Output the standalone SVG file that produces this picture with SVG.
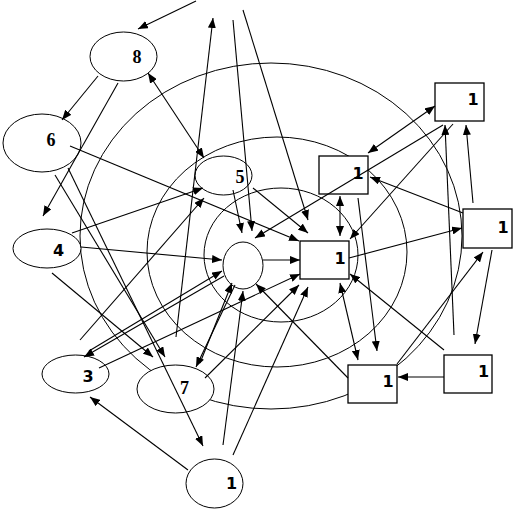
<svg xmlns="http://www.w3.org/2000/svg" width="515" height="511" viewBox="0 0 515 511">
<style>
.ring{fill:none;stroke:#000;stroke-width:1}
.n{fill:#fff;stroke:#000;stroke-width:1}
.b{fill:#fff;stroke:#000;stroke-width:1.3}
.c line{stroke:#000;stroke-width:1.1;marker-end:url(#a)}
.c line.d{marker-start:url(#a)}
.ts{font-family:"Liberation Serif","Times New Roman",serif;font-weight:bold;font-size:18px;text-anchor:middle}
.tn{font-family:"DejaVu Sans","Verdana",sans-serif;font-weight:bold;font-size:16px;text-anchor:middle}
</style>
<defs>
<marker id="a" viewBox="0 0 10 8" refX="10" refY="4" markerWidth="10" markerHeight="8" markerUnits="userSpaceOnUse" orient="auto-start-reverse"><path d="M0,0L10,4L0,8z" fill="#000"/></marker>
</defs>
<rect width="515" height="511" fill="#fff"/>
<g id="rings">
<ellipse class="ring" cx="271" cy="236" rx="191" ry="173"/>
<ellipse class="ring" cx="277" cy="252" rx="130" ry="115"/>
<ellipse class="ring" cx="281" cy="255" rx="77" ry="67"/>
</g>
<g id="n8"><ellipse class="n" cx="123.5" cy="56.5" rx="33.5" ry="24.5"/><text class="ts" x="137" y="63">8</text></g>
<g id="n6"><ellipse class="n" cx="42" cy="143" rx="39" ry="29"/><text class="ts" x="51" y="146">6</text></g>
<g id="n4"><ellipse class="n" cx="47" cy="248.5" rx="34" ry="19.5"/><text class="tn" x="58.5" y="256">4</text></g>
<g id="n3"><ellipse class="n" cx="75.5" cy="374" rx="33.5" ry="19"/><text class="tn" x="88" y="382">3</text></g>
<g id="n7"><ellipse class="n" cx="175.5" cy="389" rx="38.5" ry="24"/><text class="ts" x="184.5" y="394">7</text></g>
<g id="n1b"><ellipse class="n" cx="214.5" cy="483.5" rx="28.5" ry="24.5"/><text class="tn" x="231.5" y="489">1</text></g>
<g id="n5"><ellipse class="n" cx="223.5" cy="175.5" rx="28.5" ry="19.5"/><text class="ts" x="240" y="183">5</text></g>
<g id="nc"><ellipse class="n" cx="243" cy="265.5" rx="20" ry="23.5"/></g>
<g id="bc"><rect class="b" x="300" y="241" width="49" height="38"/><text class="tn" x="340" y="264">1</text></g>
<g id="bt"><rect class="b" x="319" y="156" width="49" height="38"/><text class="tn" x="358" y="179">1</text></g>
<g id="btr"><rect class="b" x="435" y="83" width="49" height="38"/><text class="tn" x="473" y="105">1</text></g>
<g id="br"><rect class="b" x="463" y="209" width="49" height="39"/><text class="tn" x="503" y="233">1</text></g>
<g id="bbm"><rect class="b" x="348" y="365" width="49" height="38"/><text class="tn" x="388" y="387">1</text></g>
<g id="bbr"><rect class="b" x="444" y="355" width="48" height="38"/><text class="tn" x="483.5" y="377">1</text></g>
<g id="connectors" class="c">
<line x1="196" y1="1" x2="138" y2="29"/>
<line x1="176" y1="337" x2="213" y2="18"/>
<line x1="233" y1="20" x2="252" y2="231"/>
<line x1="243" y1="10" x2="308" y2="220"/>
<line x1="233" y1="190" x2="242" y2="233"/>
<line x1="253" y1="188" x2="308" y2="233"/>
<line class="d" x1="148" y1="73" x2="204" y2="158"/>
<line x1="98" y1="76" x2="62" y2="120"/>
<line x1="118" y1="83" x2="43" y2="216"/>
<line x1="70" y1="146" x2="299" y2="241"/>
<line x1="55" y1="175" x2="165" y2="357"/>
<line x1="68" y1="168" x2="203" y2="446"/>
<line x1="72" y1="233" x2="203" y2="188"/>
<line x1="81" y1="247" x2="222" y2="260"/>
<line x1="52" y1="273" x2="153" y2="357"/>
<line x1="80" y1="340" x2="204" y2="198"/>
<line x1="89" y1="351" x2="222" y2="271"/>
<line x1="224" y1="276" x2="84" y2="357"/>
<line x1="99" y1="368" x2="300" y2="274"/>
<line x1="205" y1="378" x2="299" y2="285"/>
<line x1="233" y1="455" x2="308" y2="287"/>
<line x1="223" y1="445" x2="243" y2="291"/>
<line x1="188" y1="470" x2="90" y2="397"/>
<line x1="200" y1="363" x2="232" y2="283"/>
<line x1="235" y1="285" x2="196" y2="367"/>
<line x1="263" y1="260" x2="300" y2="260"/>
<line x1="348" y1="378" x2="256" y2="284"/>
<line x1="444" y1="350" x2="350" y2="274"/>
<line class="d" x1="340" y1="283" x2="358" y2="360"/>
<line class="d" x1="340" y1="196" x2="340" y2="236"/>
<line class="d" x1="368" y1="153" x2="435" y2="106"/>
<line x1="453" y1="124" x2="350" y2="239"/>
<line x1="443" y1="125" x2="255" y2="238"/>
<line x1="454" y1="335" x2="445" y2="125"/>
<line x1="473" y1="203" x2="466" y2="125"/>
<line x1="463" y1="213" x2="370" y2="177"/>
<line x1="349" y1="258" x2="462" y2="228"/>
<line x1="492" y1="250" x2="475" y2="344"/>
<line x1="397" y1="364" x2="483" y2="252"/>
<line x1="444" y1="377" x2="398" y2="377"/>
<line x1="358" y1="198" x2="377" y2="351"/>
</g>
</svg>
